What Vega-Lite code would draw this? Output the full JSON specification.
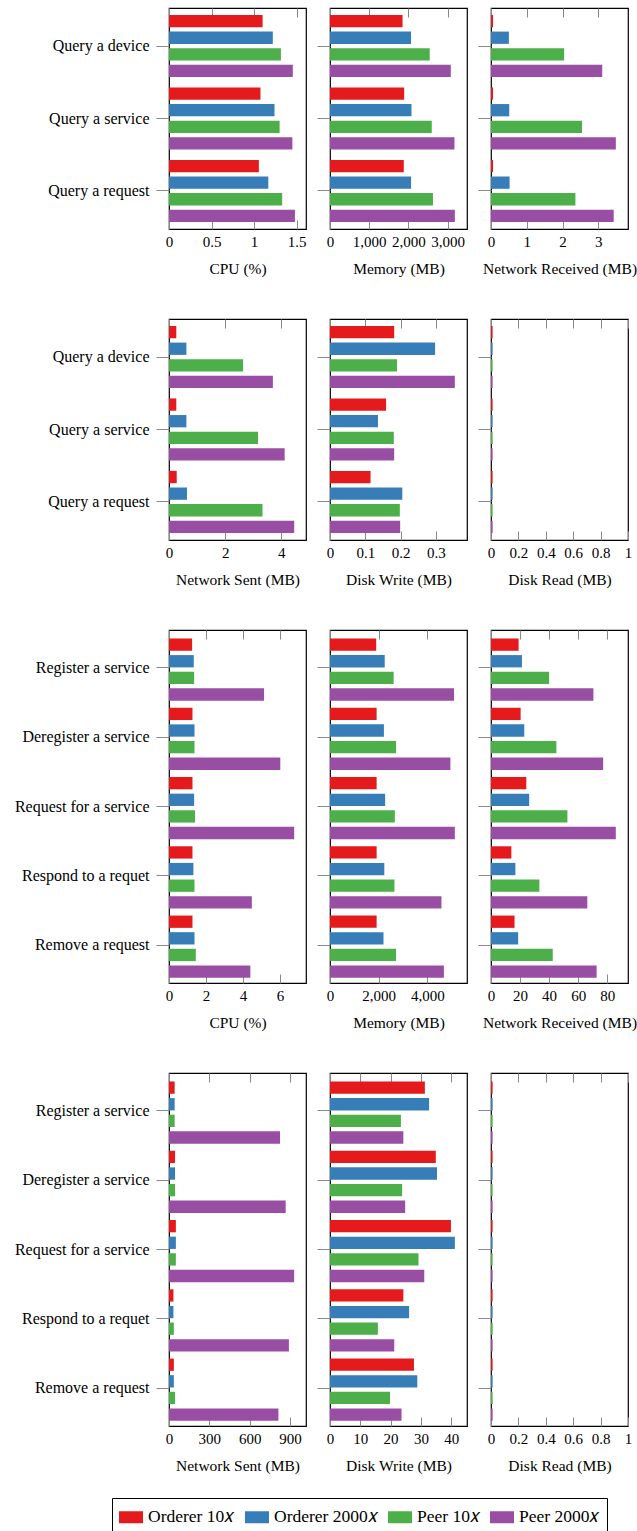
{
"$schema": "https://vega.github.io/schema/vega-lite/v6.json",
"padding": {"left": 13, "top": 6, "right": 0, "bottom": 0},
"datasets": {"d": [
{"m":"cpuA","t":"Query a device","s":"Orderer 10𝑥","v":1.10},{"m":"cpuA","t":"Query a device","s":"Orderer 2000𝑥","v":1.22},{"m":"cpuA","t":"Query a device","s":"Peer 10𝑥","v":1.315},{"m":"cpuA","t":"Query a device","s":"Peer 2000𝑥","v":1.455},
{"m":"cpuA","t":"Query a service","s":"Orderer 10𝑥","v":1.075},{"m":"cpuA","t":"Query a service","s":"Orderer 2000𝑥","v":1.24},{"m":"cpuA","t":"Query a service","s":"Peer 10𝑥","v":1.30},{"m":"cpuA","t":"Query a service","s":"Peer 2000𝑥","v":1.45},
{"m":"cpuA","t":"Query a request","s":"Orderer 10𝑥","v":1.056},{"m":"cpuA","t":"Query a request","s":"Orderer 2000𝑥","v":1.167},{"m":"cpuA","t":"Query a request","s":"Peer 10𝑥","v":1.33},{"m":"cpuA","t":"Query a request","s":"Peer 2000𝑥","v":1.48},
{"m":"memA","t":"Query a device","s":"Orderer 10𝑥","v":1851},{"m":"memA","t":"Query a device","s":"Orderer 2000𝑥","v":2068},{"m":"memA","t":"Query a device","s":"Peer 10𝑥","v":2544},{"m":"memA","t":"Query a device","s":"Peer 2000𝑥","v":3082},
{"m":"memA","t":"Query a service","s":"Orderer 10𝑥","v":1892},{"m":"memA","t":"Query a service","s":"Orderer 2000𝑥","v":2079},{"m":"memA","t":"Query a service","s":"Peer 10𝑥","v":2596},{"m":"memA","t":"Query a service","s":"Peer 2000𝑥","v":3175},
{"m":"memA","t":"Query a request","s":"Orderer 10𝑥","v":1882},{"m":"memA","t":"Query a request","s":"Orderer 2000𝑥","v":2068},{"m":"memA","t":"Query a request","s":"Peer 10𝑥","v":2627},{"m":"memA","t":"Query a request","s":"Peer 2000𝑥","v":3185},
{"m":"nrA","t":"Query a device","s":"Orderer 10𝑥","v":0.057},{"m":"nrA","t":"Query a device","s":"Orderer 2000𝑥","v":0.50},{"m":"nrA","t":"Query a device","s":"Peer 10𝑥","v":2.045},{"m":"nrA","t":"Query a device","s":"Peer 2000𝑥","v":3.11},
{"m":"nrA","t":"Query a service","s":"Orderer 10𝑥","v":0.057},{"m":"nrA","t":"Query a service","s":"Orderer 2000𝑥","v":0.51},{"m":"nrA","t":"Query a service","s":"Peer 10𝑥","v":2.545},{"m":"nrA","t":"Query a service","s":"Peer 2000𝑥","v":3.49},
{"m":"nrA","t":"Query a request","s":"Orderer 10𝑥","v":0.057},{"m":"nrA","t":"Query a request","s":"Orderer 2000𝑥","v":0.52},{"m":"nrA","t":"Query a request","s":"Peer 10𝑥","v":2.36},{"m":"nrA","t":"Query a request","s":"Peer 2000𝑥","v":3.43},
{"m":"nsA","t":"Query a device","s":"Orderer 10𝑥","v":0.26},{"m":"nsA","t":"Query a device","s":"Orderer 2000𝑥","v":0.62},{"m":"nsA","t":"Query a device","s":"Peer 10𝑥","v":2.64},{"m":"nsA","t":"Query a device","s":"Peer 2000𝑥","v":3.70},
{"m":"nsA","t":"Query a service","s":"Orderer 10𝑥","v":0.26},{"m":"nsA","t":"Query a service","s":"Orderer 2000𝑥","v":0.62},{"m":"nsA","t":"Query a service","s":"Peer 10𝑥","v":3.17},{"m":"nsA","t":"Query a service","s":"Peer 2000𝑥","v":4.12},
{"m":"nsA","t":"Query a request","s":"Orderer 10𝑥","v":0.275},{"m":"nsA","t":"Query a request","s":"Orderer 2000𝑥","v":0.64},{"m":"nsA","t":"Query a request","s":"Peer 10𝑥","v":3.33},{"m":"nsA","t":"Query a request","s":"Peer 2000𝑥","v":4.46},
{"m":"dwA","t":"Query a device","s":"Orderer 10𝑥","v":0.182},{"m":"dwA","t":"Query a device","s":"Orderer 2000𝑥","v":0.298},{"m":"dwA","t":"Query a device","s":"Peer 10𝑥","v":0.19},{"m":"dwA","t":"Query a device","s":"Peer 2000𝑥","v":0.354},
{"m":"dwA","t":"Query a service","s":"Orderer 10𝑥","v":0.159},{"m":"dwA","t":"Query a service","s":"Orderer 2000𝑥","v":0.136},{"m":"dwA","t":"Query a service","s":"Peer 10𝑥","v":0.181},{"m":"dwA","t":"Query a service","s":"Peer 2000𝑥","v":0.182},
{"m":"dwA","t":"Query a request","s":"Orderer 10𝑥","v":0.115},{"m":"dwA","t":"Query a request","s":"Orderer 2000𝑥","v":0.205},{"m":"dwA","t":"Query a request","s":"Peer 10𝑥","v":0.198},{"m":"dwA","t":"Query a request","s":"Peer 2000𝑥","v":0.199},
{"m":"drA","t":"Query a device","s":"Orderer 10𝑥","v":0.012},{"m":"drA","t":"Query a device","s":"Orderer 2000𝑥","v":0.012},{"m":"drA","t":"Query a device","s":"Peer 10𝑥","v":0.012},{"m":"drA","t":"Query a device","s":"Peer 2000𝑥","v":0.012},
{"m":"drA","t":"Query a service","s":"Orderer 10𝑥","v":0.012},{"m":"drA","t":"Query a service","s":"Orderer 2000𝑥","v":0.012},{"m":"drA","t":"Query a service","s":"Peer 10𝑥","v":0.012},{"m":"drA","t":"Query a service","s":"Peer 2000𝑥","v":0.012},
{"m":"drA","t":"Query a request","s":"Orderer 10𝑥","v":0.012},{"m":"drA","t":"Query a request","s":"Orderer 2000𝑥","v":0.012},{"m":"drA","t":"Query a request","s":"Peer 10𝑥","v":0.012},{"m":"drA","t":"Query a request","s":"Peer 2000𝑥","v":0.012},
{"m":"cpuB","t":"Register a service","s":"Orderer 10𝑥","v":1.25},{"m":"cpuB","t":"Register a service","s":"Orderer 2000𝑥","v":1.34},{"m":"cpuB","t":"Register a service","s":"Peer 10𝑥","v":1.36},{"m":"cpuB","t":"Register a service","s":"Peer 2000𝑥","v":5.14},
{"m":"cpuB","t":"Deregister a service","s":"Orderer 10𝑥","v":1.27},{"m":"cpuB","t":"Deregister a service","s":"Orderer 2000𝑥","v":1.38},{"m":"cpuB","t":"Deregister a service","s":"Peer 10𝑥","v":1.38},{"m":"cpuB","t":"Deregister a service","s":"Peer 2000𝑥","v":6.02},
{"m":"cpuB","t":"Request for a service","s":"Orderer 10𝑥","v":1.27},{"m":"cpuB","t":"Request for a service","s":"Orderer 2000𝑥","v":1.36},{"m":"cpuB","t":"Request for a service","s":"Peer 10𝑥","v":1.41},{"m":"cpuB","t":"Request for a service","s":"Peer 2000𝑥","v":6.77},
{"m":"cpuB","t":"Respond to a requet","s":"Orderer 10𝑥","v":1.27},{"m":"cpuB","t":"Respond to a requet","s":"Orderer 2000𝑥","v":1.32},{"m":"cpuB","t":"Respond to a requet","s":"Peer 10𝑥","v":1.38},{"m":"cpuB","t":"Respond to a requet","s":"Peer 2000𝑥","v":4.48},
{"m":"cpuB","t":"Remove a request","s":"Orderer 10𝑥","v":1.27},{"m":"cpuB","t":"Remove a request","s":"Orderer 2000𝑥","v":1.38},{"m":"cpuB","t":"Remove a request","s":"Peer 10𝑥","v":1.45},{"m":"cpuB","t":"Remove a request","s":"Peer 2000𝑥","v":4.40},
{"m":"memB","t":"Register a service","s":"Orderer 10𝑥","v":1900},{"m":"memB","t":"Register a service","s":"Orderer 2000𝑥","v":2250},{"m":"memB","t":"Register a service","s":"Peer 10𝑥","v":2617},{"m":"memB","t":"Register a service","s":"Peer 2000𝑥","v":5100},
{"m":"memB","t":"Deregister a service","s":"Orderer 10𝑥","v":1917},{"m":"memB","t":"Deregister a service","s":"Orderer 2000𝑥","v":2217},{"m":"memB","t":"Deregister a service","s":"Peer 10𝑥","v":2717},{"m":"memB","t":"Deregister a service","s":"Peer 2000𝑥","v":4950},
{"m":"memB","t":"Request for a service","s":"Orderer 10𝑥","v":1917},{"m":"memB","t":"Request for a service","s":"Orderer 2000𝑥","v":2267},{"m":"memB","t":"Request for a service","s":"Peer 10𝑥","v":2667},{"m":"memB","t":"Request for a service","s":"Peer 2000𝑥","v":5133},
{"m":"memB","t":"Respond to a requet","s":"Orderer 10𝑥","v":1917},{"m":"memB","t":"Respond to a requet","s":"Orderer 2000𝑥","v":2233},{"m":"memB","t":"Respond to a requet","s":"Peer 10𝑥","v":2650},{"m":"memB","t":"Respond to a requet","s":"Peer 2000𝑥","v":4583},
{"m":"memB","t":"Remove a request","s":"Orderer 10𝑥","v":1917},{"m":"memB","t":"Remove a request","s":"Orderer 2000𝑥","v":2200},{"m":"memB","t":"Remove a request","s":"Peer 10𝑥","v":2717},{"m":"memB","t":"Remove a request","s":"Peer 2000𝑥","v":4683},
{"m":"nrB","t":"Register a service","s":"Orderer 10𝑥","v":19.0},{"m":"nrB","t":"Register a service","s":"Orderer 2000𝑥","v":21.3},{"m":"nrB","t":"Register a service","s":"Peer 10𝑥","v":40.0},{"m":"nrB","t":"Register a service","s":"Peer 2000𝑥","v":70.5},
{"m":"nrB","t":"Deregister a service","s":"Orderer 10𝑥","v":20.4},{"m":"nrB","t":"Deregister a service","s":"Orderer 2000𝑥","v":22.9},{"m":"nrB","t":"Deregister a service","s":"Peer 10𝑥","v":45.0},{"m":"nrB","t":"Deregister a service","s":"Peer 2000𝑥","v":77.2},
{"m":"nrB","t":"Request for a service","s":"Orderer 10𝑥","v":24.3},{"m":"nrB","t":"Request for a service","s":"Orderer 2000𝑥","v":26.3},{"m":"nrB","t":"Request for a service","s":"Peer 10𝑥","v":52.6},{"m":"nrB","t":"Request for a service","s":"Peer 2000𝑥","v":85.9},
{"m":"nrB","t":"Respond to a requet","s":"Orderer 10𝑥","v":14.0},{"m":"nrB","t":"Respond to a requet","s":"Orderer 2000𝑥","v":16.8},{"m":"nrB","t":"Respond to a requet","s":"Peer 10𝑥","v":33.3},{"m":"nrB","t":"Respond to a requet","s":"Peer 2000𝑥","v":66.3},
{"m":"nrB","t":"Remove a request","s":"Orderer 10𝑥","v":16.2},{"m":"nrB","t":"Remove a request","s":"Orderer 2000𝑥","v":18.7},{"m":"nrB","t":"Remove a request","s":"Peer 10𝑥","v":42.5},{"m":"nrB","t":"Remove a request","s":"Peer 2000𝑥","v":72.7},
{"m":"nsB","t":"Register a service","s":"Orderer 10𝑥","v":42},{"m":"nsB","t":"Register a service","s":"Orderer 2000𝑥","v":42},{"m":"nsB","t":"Register a service","s":"Peer 10𝑥","v":42},{"m":"nsB","t":"Register a service","s":"Peer 2000𝑥","v":825},
{"m":"nsB","t":"Deregister a service","s":"Orderer 10𝑥","v":45},{"m":"nsB","t":"Deregister a service","s":"Orderer 2000𝑥","v":45},{"m":"nsB","t":"Deregister a service","s":"Peer 10𝑥","v":45},{"m":"nsB","t":"Deregister a service","s":"Peer 2000𝑥","v":867},
{"m":"nsB","t":"Request for a service","s":"Orderer 10𝑥","v":51},{"m":"nsB","t":"Request for a service","s":"Orderer 2000𝑥","v":51},{"m":"nsB","t":"Request for a service","s":"Peer 10𝑥","v":51},{"m":"nsB","t":"Request for a service","s":"Peer 2000𝑥","v":930},
{"m":"nsB","t":"Respond to a requet","s":"Orderer 10𝑥","v":33},{"m":"nsB","t":"Respond to a requet","s":"Orderer 2000𝑥","v":33},{"m":"nsB","t":"Respond to a requet","s":"Peer 10𝑥","v":36},{"m":"nsB","t":"Respond to a requet","s":"Peer 2000𝑥","v":891},
{"m":"nsB","t":"Remove a request","s":"Orderer 10𝑥","v":36},{"m":"nsB","t":"Remove a request","s":"Orderer 2000𝑥","v":36},{"m":"nsB","t":"Remove a request","s":"Peer 10𝑥","v":45},{"m":"nsB","t":"Remove a request","s":"Peer 2000𝑥","v":813},
{"m":"dwB","t":"Register a service","s":"Orderer 10𝑥","v":31.3},{"m":"dwB","t":"Register a service","s":"Orderer 2000𝑥","v":32.7},{"m":"dwB","t":"Register a service","s":"Peer 10𝑥","v":23.4},{"m":"dwB","t":"Register a service","s":"Peer 2000𝑥","v":24.2},
{"m":"dwB","t":"Deregister a service","s":"Orderer 10𝑥","v":34.9},{"m":"dwB","t":"Deregister a service","s":"Orderer 2000𝑥","v":35.3},{"m":"dwB","t":"Deregister a service","s":"Peer 10𝑥","v":23.8},{"m":"dwB","t":"Deregister a service","s":"Peer 2000𝑥","v":24.8},
{"m":"dwB","t":"Request for a service","s":"Orderer 10𝑥","v":39.9},{"m":"dwB","t":"Request for a service","s":"Orderer 2000𝑥","v":41.2},{"m":"dwB","t":"Request for a service","s":"Peer 10𝑥","v":29.2},{"m":"dwB","t":"Request for a service","s":"Peer 2000𝑥","v":31.1},
{"m":"dwB","t":"Respond to a requet","s":"Orderer 10𝑥","v":24.2},{"m":"dwB","t":"Respond to a requet","s":"Orderer 2000𝑥","v":26.1},{"m":"dwB","t":"Respond to a requet","s":"Peer 10𝑥","v":15.8},{"m":"dwB","t":"Respond to a requet","s":"Peer 2000𝑥","v":21.2},
{"m":"dwB","t":"Remove a request","s":"Orderer 10𝑥","v":27.7},{"m":"dwB","t":"Remove a request","s":"Orderer 2000𝑥","v":28.8},{"m":"dwB","t":"Remove a request","s":"Peer 10𝑥","v":19.8},{"m":"dwB","t":"Remove a request","s":"Peer 2000𝑥","v":23.6},
{"m":"drB","t":"Register a service","s":"Orderer 10𝑥","v":0.012},{"m":"drB","t":"Register a service","s":"Orderer 2000𝑥","v":0.012},{"m":"drB","t":"Register a service","s":"Peer 10𝑥","v":0.012},{"m":"drB","t":"Register a service","s":"Peer 2000𝑥","v":0.012},
{"m":"drB","t":"Deregister a service","s":"Orderer 10𝑥","v":0.012},{"m":"drB","t":"Deregister a service","s":"Orderer 2000𝑥","v":0.012},{"m":"drB","t":"Deregister a service","s":"Peer 10𝑥","v":0.012},{"m":"drB","t":"Deregister a service","s":"Peer 2000𝑥","v":0.012},
{"m":"drB","t":"Request for a service","s":"Orderer 10𝑥","v":0.012},{"m":"drB","t":"Request for a service","s":"Orderer 2000𝑥","v":0.012},{"m":"drB","t":"Request for a service","s":"Peer 10𝑥","v":0.012},{"m":"drB","t":"Request for a service","s":"Peer 2000𝑥","v":0.012},
{"m":"drB","t":"Respond to a requet","s":"Orderer 10𝑥","v":0.012},{"m":"drB","t":"Respond to a requet","s":"Orderer 2000𝑥","v":0.012},{"m":"drB","t":"Respond to a requet","s":"Peer 10𝑥","v":0.012},{"m":"drB","t":"Respond to a requet","s":"Peer 2000𝑥","v":0.012},
{"m":"drB","t":"Remove a request","s":"Orderer 10𝑥","v":0.012},{"m":"drB","t":"Remove a request","s":"Orderer 2000𝑥","v":0.012},{"m":"drB","t":"Remove a request","s":"Peer 10𝑥","v":0.012},{"m":"drB","t":"Remove a request","s":"Peer 2000𝑥","v":0.012}
]},
"data": {"name": "d"},
"spacing": 39,
"resolve": {"scale": {"color": "shared"}, "legend": {"color": "shared"}},
"vconcat": [
{"hconcat": [
 {"width": 137, "height": 221, "transform": [{"filter": "datum.m === 'cpuA'"}],
  "layer": [
   {"mark": "bar", "encoding": {
     "y": {"field": "t", "type": "nominal", "sort": null, "title": null, "scale": {"paddingInner": 0, "paddingOuter": 0.025}},
     "yOffset": {"field": "s", "type": "nominal", "sort": null, "scale": {"paddingInner": 0.26, "paddingOuter": 0.31}},
     "x": {"field": "v", "type": "quantitative", "title": "CPU (%)", "scale": {"domain": [0, 1.61], "nice": false}, "axis": {"values": [0, 0.5, 1, 1.5]}},
     "color": {"field": "s", "type": "nominal", "sort": null, "scale": {"domain": ["Orderer 10𝑥","Orderer 2000𝑥","Peer 10𝑥","Peer 2000𝑥"], "range": ["#e41a1c","#377eb8","#4daf4a","#984ea3"]}, "legend": {"title": null, "orient": "none", "legendX": -57, "legendY": 1490, "direction": "horizontal", "columns": 4, "symbolType": "M-1,-0.5H1V0.5H-1Z", "symbolSize": 576, "symbolStrokeWidth": 0, "symbolOpacity": 1, "labelFont": "Liberation Serif", "labelFontSize": 17.5, "labelColor": "black", "labelOffset": 5, "columnPadding": 10, "padding": 7, "strokeColor": "black"}}}},
   {"mark": {"type": "rule", "opacity": 0}, "encoding": {"x": {"field": "v", "type": "quantitative", "scale": {"domain": [0, 1.61], "nice": false}, "axis": {"orient": "top", "values": [0, 0.5, 1, 1.5], "labels": false, "title": null}}}}
  ],
  "resolve": {"axis": {"x": "independent"}}},
 {"width": 137, "height": 221, "transform": [{"filter": "datum.m === 'memA'"}],
  "layer": [
   {"mark": "bar", "encoding": {
     "y": {"field": "t", "type": "nominal", "sort": null, "title": null, "scale": {"paddingInner": 0, "paddingOuter": 0.025}, "axis": {"labels": false}},
     "yOffset": {"field": "s", "type": "nominal", "sort": null, "scale": {"paddingInner": 0.26, "paddingOuter": 0.31}},
     "x": {"field": "v", "type": "quantitative", "title": "Memory (MB)", "scale": {"domain": [0, 3495], "nice": false}, "axis": {"values": [0, 1000, 2000, 3000]}},
     "color": {"field": "s", "type": "nominal", "sort": null, "scale": {"domain": ["Orderer 10𝑥","Orderer 2000𝑥","Peer 10𝑥","Peer 2000𝑥"], "range": ["#e41a1c","#377eb8","#4daf4a","#984ea3"]}, "legend": {"title": null, "orient": "none", "legendX": -57, "legendY": 1490, "direction": "horizontal", "columns": 4, "symbolType": "M-1,-0.5H1V0.5H-1Z", "symbolSize": 576, "symbolStrokeWidth": 0, "symbolOpacity": 1, "labelFont": "Liberation Serif", "labelFontSize": 17.5, "labelColor": "black", "labelOffset": 5, "columnPadding": 10, "padding": 7, "strokeColor": "black"}}}},
   {"mark": {"type": "rule", "opacity": 0}, "encoding": {"x": {"field": "v", "type": "quantitative", "scale": {"domain": [0, 3495], "nice": false}, "axis": {"orient": "top", "values": [0, 1000, 2000, 3000], "labels": false, "title": null}}}}
  ],
  "resolve": {"axis": {"x": "independent"}}},
 {"width": 137, "height": 221, "transform": [{"filter": "datum.m === 'nrA'"}],
  "layer": [
   {"mark": "bar", "encoding": {
     "y": {"field": "t", "type": "nominal", "sort": null, "title": null, "scale": {"paddingInner": 0, "paddingOuter": 0.025}, "axis": {"labels": false}},
     "yOffset": {"field": "s", "type": "nominal", "sort": null, "scale": {"paddingInner": 0.26, "paddingOuter": 0.31}},
     "x": {"field": "v", "type": "quantitative", "title": "Network Received (MB)", "scale": {"domain": [0, 3.83], "nice": false}, "axis": {"values": [0, 1, 2, 3]}},
     "color": {"field": "s", "type": "nominal", "sort": null, "scale": {"domain": ["Orderer 10𝑥","Orderer 2000𝑥","Peer 10𝑥","Peer 2000𝑥"], "range": ["#e41a1c","#377eb8","#4daf4a","#984ea3"]}, "legend": {"title": null, "orient": "none", "legendX": -57, "legendY": 1490, "direction": "horizontal", "columns": 4, "symbolType": "M-1,-0.5H1V0.5H-1Z", "symbolSize": 576, "symbolStrokeWidth": 0, "symbolOpacity": 1, "labelFont": "Liberation Serif", "labelFontSize": 17.5, "labelColor": "black", "labelOffset": 5, "columnPadding": 10, "padding": 7, "strokeColor": "black"}}}},
   {"mark": {"type": "rule", "opacity": 0}, "encoding": {"x": {"field": "v", "type": "quantitative", "scale": {"domain": [0, 3.83], "nice": false}, "axis": {"orient": "top", "values": [0, 1, 2, 3], "labels": false, "title": null}}}}
  ],
  "resolve": {"axis": {"x": "independent"}}}
 ], "spacing": 24, "bounds": "flush"},
{"hconcat": [
 {"width": 137, "height": 221, "transform": [{"filter": "datum.m === 'nsA'"}],
  "layer": [
   {"mark": "bar", "encoding": {
     "y": {"field": "t", "type": "nominal", "sort": null, "title": null, "scale": {"paddingInner": 0, "paddingOuter": 0.025}},
     "yOffset": {"field": "s", "type": "nominal", "sort": null, "scale": {"paddingInner": 0.26, "paddingOuter": 0.31}},
     "x": {"field": "v", "type": "quantitative", "title": "Network Sent (MB)", "scale": {"domain": [0, 4.88], "nice": false}, "axis": {"values": [0, 2, 4]}},
     "color": {"field": "s", "type": "nominal", "sort": null, "scale": {"domain": ["Orderer 10𝑥","Orderer 2000𝑥","Peer 10𝑥","Peer 2000𝑥"], "range": ["#e41a1c","#377eb8","#4daf4a","#984ea3"]}, "legend": {"title": null, "orient": "none", "legendX": -57, "legendY": 1490, "direction": "horizontal", "columns": 4, "symbolType": "M-1,-0.5H1V0.5H-1Z", "symbolSize": 576, "symbolStrokeWidth": 0, "symbolOpacity": 1, "labelFont": "Liberation Serif", "labelFontSize": 17.5, "labelColor": "black", "labelOffset": 5, "columnPadding": 10, "padding": 7, "strokeColor": "black"}}}},
   {"mark": {"type": "rule", "opacity": 0}, "encoding": {"x": {"field": "v", "type": "quantitative", "scale": {"domain": [0, 4.88], "nice": false}, "axis": {"orient": "top", "values": [0, 2, 4], "labels": false, "title": null}}}}
  ],
  "resolve": {"axis": {"x": "independent"}}},
 {"width": 137, "height": 221, "transform": [{"filter": "datum.m === 'dwA'"}],
  "layer": [
   {"mark": "bar", "encoding": {
     "y": {"field": "t", "type": "nominal", "sort": null, "title": null, "scale": {"paddingInner": 0, "paddingOuter": 0.025}, "axis": {"labels": false}},
     "yOffset": {"field": "s", "type": "nominal", "sort": null, "scale": {"paddingInner": 0.26, "paddingOuter": 0.31}},
     "x": {"field": "v", "type": "quantitative", "title": "Disk Write (MB)", "scale": {"domain": [0, 0.3885], "nice": false}, "axis": {"values": [0, 0.1, 0.2, 0.3]}},
     "color": {"field": "s", "type": "nominal", "sort": null, "scale": {"domain": ["Orderer 10𝑥","Orderer 2000𝑥","Peer 10𝑥","Peer 2000𝑥"], "range": ["#e41a1c","#377eb8","#4daf4a","#984ea3"]}, "legend": {"title": null, "orient": "none", "legendX": -57, "legendY": 1490, "direction": "horizontal", "columns": 4, "symbolType": "M-1,-0.5H1V0.5H-1Z", "symbolSize": 576, "symbolStrokeWidth": 0, "symbolOpacity": 1, "labelFont": "Liberation Serif", "labelFontSize": 17.5, "labelColor": "black", "labelOffset": 5, "columnPadding": 10, "padding": 7, "strokeColor": "black"}}}},
   {"mark": {"type": "rule", "opacity": 0}, "encoding": {"x": {"field": "v", "type": "quantitative", "scale": {"domain": [0, 0.3885], "nice": false}, "axis": {"orient": "top", "values": [0, 0.1, 0.2, 0.3], "labels": false, "title": null}}}}
  ],
  "resolve": {"axis": {"x": "independent"}}},
 {"width": 137, "height": 221, "transform": [{"filter": "datum.m === 'drA'"}],
  "layer": [
   {"mark": "bar", "encoding": {
     "y": {"field": "t", "type": "nominal", "sort": null, "title": null, "scale": {"paddingInner": 0, "paddingOuter": 0.025}, "axis": {"labels": false}},
     "yOffset": {"field": "s", "type": "nominal", "sort": null, "scale": {"paddingInner": 0.26, "paddingOuter": 0.31}},
     "x": {"field": "v", "type": "quantitative", "title": "Disk Read (MB)", "scale": {"domain": [0, 1], "nice": false}, "axis": {"values": [0, 0.2, 0.4, 0.6, 0.8, 1]}},
     "color": {"field": "s", "type": "nominal", "sort": null, "scale": {"domain": ["Orderer 10𝑥","Orderer 2000𝑥","Peer 10𝑥","Peer 2000𝑥"], "range": ["#e41a1c","#377eb8","#4daf4a","#984ea3"]}, "legend": {"title": null, "orient": "none", "legendX": -57, "legendY": 1490, "direction": "horizontal", "columns": 4, "symbolType": "M-1,-0.5H1V0.5H-1Z", "symbolSize": 576, "symbolStrokeWidth": 0, "symbolOpacity": 1, "labelFont": "Liberation Serif", "labelFontSize": 17.5, "labelColor": "black", "labelOffset": 5, "columnPadding": 10, "padding": 7, "strokeColor": "black"}}}},
   {"mark": {"type": "rule", "opacity": 0}, "encoding": {"x": {"field": "v", "type": "quantitative", "scale": {"domain": [0, 1], "nice": false}, "axis": {"orient": "top", "values": [0, 0.2, 0.4, 0.6, 0.8, 1], "labels": false, "title": null}}}}
  ],
  "resolve": {"axis": {"x": "independent"}}}
 ], "spacing": 24, "bounds": "flush"},
{"hconcat": [
 {"width": 137, "height": 353, "transform": [{"filter": "datum.m === 'cpuB'"}],
  "layer": [
   {"mark": "bar", "encoding": {
     "y": {"field": "t", "type": "nominal", "sort": null, "title": null, "scale": {"paddingInner": 0, "paddingOuter": 0.048}},
     "yOffset": {"field": "s", "type": "nominal", "sort": null, "scale": {"paddingInner": 0.26, "paddingOuter": 0.205}},
     "x": {"field": "v", "type": "quantitative", "title": "CPU (%)", "scale": {"domain": [0, 7.41], "nice": false}, "axis": {"values": [0, 2, 4, 6]}},
     "color": {"field": "s", "type": "nominal", "sort": null, "scale": {"domain": ["Orderer 10𝑥","Orderer 2000𝑥","Peer 10𝑥","Peer 2000𝑥"], "range": ["#e41a1c","#377eb8","#4daf4a","#984ea3"]}, "legend": {"title": null, "orient": "none", "legendX": -57, "legendY": 1490, "direction": "horizontal", "columns": 4, "symbolType": "M-1,-0.5H1V0.5H-1Z", "symbolSize": 576, "symbolStrokeWidth": 0, "symbolOpacity": 1, "labelFont": "Liberation Serif", "labelFontSize": 17.5, "labelColor": "black", "labelOffset": 5, "columnPadding": 10, "padding": 7, "strokeColor": "black"}}}},
   {"mark": {"type": "rule", "opacity": 0}, "encoding": {"x": {"field": "v", "type": "quantitative", "scale": {"domain": [0, 7.41], "nice": false}, "axis": {"orient": "top", "values": [0, 2, 4, 6], "labels": false, "title": null}}}}
  ],
  "resolve": {"axis": {"x": "independent"}}},
 {"width": 137, "height": 353, "transform": [{"filter": "datum.m === 'memB'"}],
  "layer": [
   {"mark": "bar", "encoding": {
     "y": {"field": "t", "type": "nominal", "sort": null, "title": null, "scale": {"paddingInner": 0, "paddingOuter": 0.048}, "axis": {"labels": false}},
     "yOffset": {"field": "s", "type": "nominal", "sort": null, "scale": {"paddingInner": 0.26, "paddingOuter": 0.205}},
     "x": {"field": "v", "type": "quantitative", "title": "Memory (MB)", "scale": {"domain": [0, 5633], "nice": false}, "axis": {"values": [0, 2000, 4000]}},
     "color": {"field": "s", "type": "nominal", "sort": null, "scale": {"domain": ["Orderer 10𝑥","Orderer 2000𝑥","Peer 10𝑥","Peer 2000𝑥"], "range": ["#e41a1c","#377eb8","#4daf4a","#984ea3"]}, "legend": {"title": null, "orient": "none", "legendX": -57, "legendY": 1490, "direction": "horizontal", "columns": 4, "symbolType": "M-1,-0.5H1V0.5H-1Z", "symbolSize": 576, "symbolStrokeWidth": 0, "symbolOpacity": 1, "labelFont": "Liberation Serif", "labelFontSize": 17.5, "labelColor": "black", "labelOffset": 5, "columnPadding": 10, "padding": 7, "strokeColor": "black"}}}},
   {"mark": {"type": "rule", "opacity": 0}, "encoding": {"x": {"field": "v", "type": "quantitative", "scale": {"domain": [0, 5633], "nice": false}, "axis": {"orient": "top", "values": [0, 2000, 4000], "labels": false, "title": null}}}}
  ],
  "resolve": {"axis": {"x": "independent"}}},
 {"width": 137, "height": 353, "transform": [{"filter": "datum.m === 'nrB'"}],
  "layer": [
   {"mark": "bar", "encoding": {
     "y": {"field": "t", "type": "nominal", "sort": null, "title": null, "scale": {"paddingInner": 0, "paddingOuter": 0.048}, "axis": {"labels": false}},
     "yOffset": {"field": "s", "type": "nominal", "sort": null, "scale": {"paddingInner": 0.26, "paddingOuter": 0.205}},
     "x": {"field": "v", "type": "quantitative", "title": "Network Received (MB)", "scale": {"domain": [0, 94.3], "nice": false}, "axis": {"values": [0, 20, 40, 60, 80]}},
     "color": {"field": "s", "type": "nominal", "sort": null, "scale": {"domain": ["Orderer 10𝑥","Orderer 2000𝑥","Peer 10𝑥","Peer 2000𝑥"], "range": ["#e41a1c","#377eb8","#4daf4a","#984ea3"]}, "legend": {"title": null, "orient": "none", "legendX": -57, "legendY": 1490, "direction": "horizontal", "columns": 4, "symbolType": "M-1,-0.5H1V0.5H-1Z", "symbolSize": 576, "symbolStrokeWidth": 0, "symbolOpacity": 1, "labelFont": "Liberation Serif", "labelFontSize": 17.5, "labelColor": "black", "labelOffset": 5, "columnPadding": 10, "padding": 7, "strokeColor": "black"}}}},
   {"mark": {"type": "rule", "opacity": 0}, "encoding": {"x": {"field": "v", "type": "quantitative", "scale": {"domain": [0, 94.3], "nice": false}, "axis": {"orient": "top", "values": [0, 20, 40, 60, 80], "labels": false, "title": null}}}}
  ],
  "resolve": {"axis": {"x": "independent"}}}
 ], "spacing": 24, "bounds": "flush"},
{"hconcat": [
 {"width": 137, "height": 353, "transform": [{"filter": "datum.m === 'nsB'"}],
  "layer": [
   {"mark": "bar", "encoding": {
     "y": {"field": "t", "type": "nominal", "sort": null, "title": null, "scale": {"paddingInner": 0, "paddingOuter": 0.048}},
     "yOffset": {"field": "s", "type": "nominal", "sort": null, "scale": {"paddingInner": 0.26, "paddingOuter": 0.205}},
     "x": {"field": "v", "type": "quantitative", "title": "Network Sent (MB)", "scale": {"domain": [0, 1018], "nice": false}, "axis": {"values": [0, 300, 600, 900]}},
     "color": {"field": "s", "type": "nominal", "sort": null, "scale": {"domain": ["Orderer 10𝑥","Orderer 2000𝑥","Peer 10𝑥","Peer 2000𝑥"], "range": ["#e41a1c","#377eb8","#4daf4a","#984ea3"]}, "legend": {"title": null, "orient": "none", "legendX": -57, "legendY": 1490, "direction": "horizontal", "columns": 4, "symbolType": "M-1,-0.5H1V0.5H-1Z", "symbolSize": 576, "symbolStrokeWidth": 0, "symbolOpacity": 1, "labelFont": "Liberation Serif", "labelFontSize": 17.5, "labelColor": "black", "labelOffset": 5, "columnPadding": 10, "padding": 7, "strokeColor": "black"}}}},
   {"mark": {"type": "rule", "opacity": 0}, "encoding": {"x": {"field": "v", "type": "quantitative", "scale": {"domain": [0, 1018], "nice": false}, "axis": {"orient": "top", "values": [0, 300, 600, 900], "labels": false, "title": null}}}}
  ],
  "resolve": {"axis": {"x": "independent"}}},
 {"width": 137, "height": 353, "transform": [{"filter": "datum.m === 'dwB'"}],
  "layer": [
   {"mark": "bar", "encoding": {
     "y": {"field": "t", "type": "nominal", "sort": null, "title": null, "scale": {"paddingInner": 0, "paddingOuter": 0.048}, "axis": {"labels": false}},
     "yOffset": {"field": "s", "type": "nominal", "sort": null, "scale": {"paddingInner": 0.26, "paddingOuter": 0.205}},
     "x": {"field": "v", "type": "quantitative", "title": "Disk Write (MB)", "scale": {"domain": [0, 45.2], "nice": false}, "axis": {"values": [0, 10, 20, 30, 40]}},
     "color": {"field": "s", "type": "nominal", "sort": null, "scale": {"domain": ["Orderer 10𝑥","Orderer 2000𝑥","Peer 10𝑥","Peer 2000𝑥"], "range": ["#e41a1c","#377eb8","#4daf4a","#984ea3"]}, "legend": {"title": null, "orient": "none", "legendX": -57, "legendY": 1490, "direction": "horizontal", "columns": 4, "symbolType": "M-1,-0.5H1V0.5H-1Z", "symbolSize": 576, "symbolStrokeWidth": 0, "symbolOpacity": 1, "labelFont": "Liberation Serif", "labelFontSize": 17.5, "labelColor": "black", "labelOffset": 5, "columnPadding": 10, "padding": 7, "strokeColor": "black"}}}},
   {"mark": {"type": "rule", "opacity": 0}, "encoding": {"x": {"field": "v", "type": "quantitative", "scale": {"domain": [0, 45.2], "nice": false}, "axis": {"orient": "top", "values": [0, 10, 20, 30, 40], "labels": false, "title": null}}}}
  ],
  "resolve": {"axis": {"x": "independent"}}},
 {"width": 137, "height": 353, "transform": [{"filter": "datum.m === 'drB'"}],
  "layer": [
   {"mark": "bar", "encoding": {
     "y": {"field": "t", "type": "nominal", "sort": null, "title": null, "scale": {"paddingInner": 0, "paddingOuter": 0.048}, "axis": {"labels": false}},
     "yOffset": {"field": "s", "type": "nominal", "sort": null, "scale": {"paddingInner": 0.26, "paddingOuter": 0.205}},
     "x": {"field": "v", "type": "quantitative", "title": "Disk Read (MB)", "scale": {"domain": [0, 1], "nice": false}, "axis": {"values": [0, 0.2, 0.4, 0.6, 0.8, 1]}},
     "color": {"field": "s", "type": "nominal", "sort": null, "scale": {"domain": ["Orderer 10𝑥","Orderer 2000𝑥","Peer 10𝑥","Peer 2000𝑥"], "range": ["#e41a1c","#377eb8","#4daf4a","#984ea3"]}, "legend": {"title": null, "orient": "none", "legendX": -57, "legendY": 1490, "direction": "horizontal", "columns": 4, "symbolType": "M-1,-0.5H1V0.5H-1Z", "symbolSize": 576, "symbolStrokeWidth": 0, "symbolOpacity": 1, "labelFont": "Liberation Serif", "labelFontSize": 17.5, "labelColor": "black", "labelOffset": 5, "columnPadding": 10, "padding": 7, "strokeColor": "black"}}}},
   {"mark": {"type": "rule", "opacity": 0}, "encoding": {"x": {"field": "v", "type": "quantitative", "scale": {"domain": [0, 1], "nice": false}, "axis": {"orient": "top", "values": [0, 0.2, 0.4, 0.6, 0.8, 1], "labels": false, "title": null}}}}
  ],
  "resolve": {"axis": {"x": "independent"}}}
 ], "spacing": 24, "bounds": "flush"}
],
"config": {
 "font": "Liberation Serif",
 "view": {"stroke": "black", "strokeWidth": 1.2},
 "axis": {"domain": false, "grid": false, "labelFont": "Liberation Serif", "titleFont": "Liberation Serif", "labelColor": "black", "titleColor": "black", "tickColor": "#888", "titleFontWeight": "normal", "labelFontSize": 15, "titleFontSize": 15.5},
 "axisX": {"tickSize": -9, "labelPadding": 14, "titlePadding": 12, "labelOverlap": false, "labelFlush": false, "labelBound": false, "format": ",.6~g"},
 "axisY": {"tickSize": 13, "labelPadding": 7, "labelFontSize": 16, "labelLimit": 300}
}
}
